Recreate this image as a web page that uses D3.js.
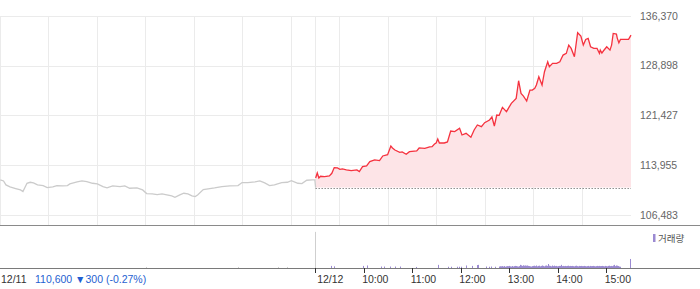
<!DOCTYPE html>
<html>
<head>
<meta charset="utf-8">
<script src="https://cdn.jsdelivr.net/npm/d3@7"></script>
<style>
  body { margin: 0; background: #fff; }
  svg { display: block; font-family: "Liberation Sans", Arial, sans-serif; }
</style>
</head>
<body>
<div id="canvas"></div>
<script>
// 12/11 session (minutes from 09:00) and price
const day1Min = [0,4,7,12,19,25,28,33,37,41,46,53,58,65,70,77,83,86,95,101,107,114,120,127,132,139,148,154,160,169,176,181,188,194,200,206,212,216,222,227,232,237,241,244,251,257,265,274,284,294,299,306,315,321,327,333,339,348,355,360,368,373,379,386,389,390];
const day1Price = [111750,111600,111000,110700,110450,110250,110000,111250,111400,111300,111000,110900,110600,110700,110900,110850,110900,111150,111450,111600,111500,111250,111150,110750,110550,110850,110750,110850,110500,110550,110250,109700,109650,109550,109650,109500,109350,109150,109500,109750,109650,109350,109250,109500,110300,110400,110550,110750,110850,110900,111350,111350,111450,111600,111300,110900,111000,111350,111400,111650,111250,111200,111700,111750,111750,110600];

// 12/12 session
const day2Min = [0,2,4,6,11,17,20,23,27,30,33,38,44,51,54,58,63,67,73,79,83,89,93,95,98,104,107,112,116,125,128,135,141,144,147,149,151,153,159,163,167,172,178,181,186,192,196,200,205,209,215,218,221,224,227,231,236,242,248,251,254,257,261,265,268,271,273,276,280,283,287,289,293,298,302,306,310,313,316,320,324,328,331,334,337,340,344,348,351,352,354,356,360,364,366,368,372,373,375,377,387,390];
const day2Price = [112050,112800,112050,112300,112250,112350,112750,113600,113550,113350,113400,113250,113150,113250,113000,113750,113850,114500,114750,114650,115350,115550,116850,116550,116250,115900,115950,115600,116000,116100,116550,116500,116700,116750,117150,117300,117900,117300,117300,117450,119100,119000,119500,118500,118750,118150,119250,120000,119750,120350,120750,121200,119850,121500,121450,122650,122000,123250,124000,126650,124750,124350,123600,125250,125250,125500,126000,127250,126000,128000,129500,128750,129250,129250,129500,130500,130750,132000,131500,130250,133850,133350,132000,132850,133000,131750,131500,131500,130750,131250,130800,131150,131750,131250,132000,133750,133650,133050,132350,132850,132850,133500];

const prevClose = 110600;
const yTicks = [106483, 113955, 121427, 128898, 136370];
const hourLabels = ["10:00", "11:00", "12:00", "13:00", "14:00", "15:00"];

// volume (thousand shares)
const vol1Min = [181, 294, 344, 355, 390];
const vol1Val = [25, 25, 25, 25, 860];
const vol2Min = [20,23,59,64,81,85,92,99,105,125,152,164,168,175,178,180,186,194,200,201,211,215,218,223,389];
const vol2Val = [50,40,50,60,35,35,35,35,35,25,75,30,30,30,30,30,60,50,70,75,35,30,35,30,215];
const vol2DenseFrom = 227;
const vol2Dense = [
  35,40,30,40,45,35,40,45,30,40,
  45,35,40,50,40,35,45,40,35,45,
  50,40,45,40,35,45,75,55,60,50,
  65,55,60,50,55,60,50,45,35,40,
  35,45,50,40,55,45,60,40,50,45,
  55,40,50,60,45,50,40,55,45,60,
  50,95,55,45,50,40,60,45,50,55,
  45,50,40,45,50,45,50,75,45,50,
  40,45,50,45,40,50,55,45,50,40,
  45,50,45,40,50,45,55,45,40,50,
  45,40,50,45,45,40,50,45,40,45,
  50,45,40,50,45,40,45,50,45,40,
  45,50,40,45,50,45,40,45,50,45,
  40,45,50,45,40,50,45,55,45,50,
  45,60,75,50,45,60,55,45,40,35,
  30];

let width = 700, height = 289;
let svg = d3.select("#canvas").append("svg")
    .attr("width", width)
    .attr("height", height);

// two sessions side by side, 390 minutes each
let x = d3.scaleLinear().domain([0, 780]).range([0.3, 631]);
let y = d3.scaleLinear().domain([106483, 136370]).range([215, 16]);
let vy = d3.scaleLinear().domain([0, 1000]).range([268, 226]);

let day1 = day1Min.map((m, i) => ({ m: m, p: day1Price[i] }));
let day2 = day2Min.map((m, i) => ({ m: m + 390, p: day2Price[i] }));

let crisp = v => Math.round(v) + 0.5;

// grid
let grid = svg.append("g").attr("class", "grid");
grid.selectAll("line.h")
    .data(yTicks)
    .enter().append("line")
    .attr("x1", 0).attr("x2", 631)
    .attr("y1", d => crisp(y(d))).attr("y2", d => crisp(y(d)))
    .attr("stroke", "#ebebeb");

let vTicks = d3.range(0, 780, 60).concat([390]);
grid.selectAll("line.v")
    .data(vTicks)
    .enter().append("line")
    .attr("x1", d => crisp(x(d) - 0.5)).attr("x2", d => crisp(x(d) - 0.5))
    .attr("y1", 16).attr("y2", 225)
    .attr("stroke", "#ebebeb");

// area under today's line, down to previous close
let area = d3.area()
    .x(d => x(d.m))
    .y0(y(prevClose))
    .y1(d => y(d.p));
svg.append("path")
    .datum(day2)
    .attr("d", area)
    .attr("fill", "#fde4e7");

svg.append("line")
    .attr("x1", x(390)).attr("x2", x(780))
    .attr("y1", crisp(y(prevClose))).attr("y2", crisp(y(prevClose)))
    .attr("stroke", "#555")
    .attr("stroke-dasharray", "1,2");

let line = d3.line().x(d => x(d.m)).y(d => y(d.p));
svg.append("path")
    .datum(day1)
    .attr("d", line)
    .attr("fill", "none")
    .attr("stroke", "#cbcbcb")
    .attr("stroke-width", 1.3);

svg.append("path")
    .datum(day2)
    .attr("d", line)
    .attr("fill", "none")
    .attr("stroke", "#f5323f")
    .attr("stroke-width", 1.3);

// panel borders
svg.append("line")
    .attr("x1", 0).attr("x2", width).attr("y1", 225.5).attr("y2", 225.5)
    .attr("stroke", "#8a8a8a");
svg.append("line")
    .attr("x1", 0).attr("x2", width).attr("y1", 268.5).attr("y2", 268.5)
    .attr("stroke", "#7a7a7a");

// right price axis
svg.append("g")
    .selectAll("text")
    .data(yTicks)
    .enter().append("text")
    .attr("x", 640)
    .attr("y", d => y(d))
    .attr("dy", "0.35em")
    .attr("font-size", 10.5)
    .attr("fill", "#666")
    .text(d => d3.format(",")(d));

// volume
let vol = svg.append("g").attr("class", "volume");
vol.selectAll("rect.d1")
    .data(vol1Min.map((m, i) => ({ m: m, v: vol1Val[i] })))
    .enter().append("rect")
    .attr("x", d => Math.round(x(d.m) - 0.5))
    .attr("width", 1)
    .attr("y", d => vy(d.v))
    .attr("height", d => 268 - vy(d.v))
    .attr("fill", "#cfcfcf");

let vol2 = vol2Min.map((m, i) => ({ m: m, v: vol2Val[i] }))
    .concat(vol2Dense.map((v, i) => ({ m: vol2DenseFrom + i, v: v })));
vol.selectAll("rect.d2")
    .data(vol2)
    .enter().append("rect")
    .attr("x", d => Math.round(x(d.m + 390) - 0.5))
    .attr("width", 1)
    .attr("y", d => vy(d.v))
    .attr("height", d => 268 - vy(d.v))
    .attr("fill", "#9b8ad2");

// legend
svg.append("rect")
    .attr("x", 653).attr("y", 234).attr("width", 2.5).attr("height", 8)
    .attr("fill", "#9b8ad2");
svg.append("text")
    .attr("x", 658).attr("y", 241.5)
    .attr("font-size", 9.5)
    .attr("font-family", "'Noto Sans CJK KR', sans-serif")
    .attr("fill", "#555")
    .text("거래량");

// bottom time axis
let axis = svg.append("g").attr("font-size", 10.5).attr("fill", "#333");
let hourTicks = hourLabels.map((t, i) => ({ m: 390 + 60 * (i + 1), t: t }));
axis.selectAll("line")
    .data([{ m: 390 }].concat(hourTicks))
    .enter().append("line")
    .attr("x1", d => crisp(x(d.m) - 0.5)).attr("x2", d => crisp(x(d.m) - 0.5))
    .attr("y1", 268).attr("y2", 273)
    .attr("stroke", "#333");
axis.selectAll("text.h")
    .data(hourTicks)
    .enter().append("text")
    .attr("x", d => x(d.m) - 2)
    .attr("y", 282.5)
    .text(d => d.t);
axis.append("text").attr("x", 1).attr("y", 282.5).text("12/11");
axis.append("text").attr("x", x(390) + 1.5).attr("y", 282.5).text("12/12");
axis.append("text")
    .attr("x", 35).attr("y", 282.5)
    .attr("fill", "#1f5fd1")
    .text("110,600 ▼300 (-0.27%)");
</script>
</body>
</html>
